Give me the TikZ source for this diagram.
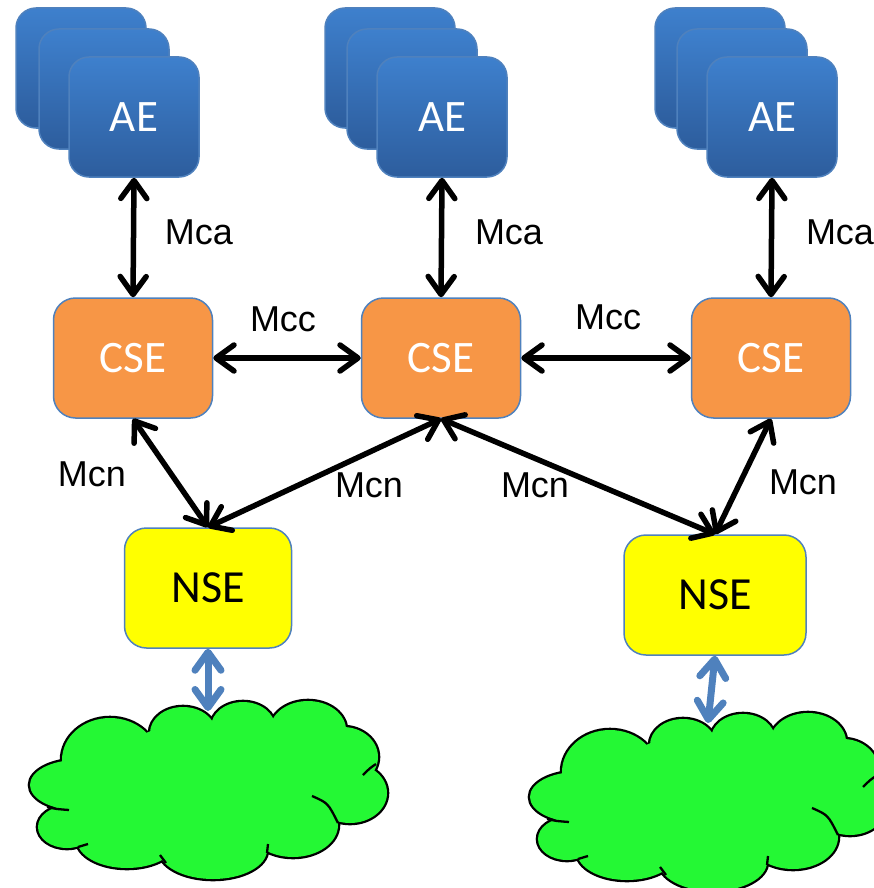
\documentclass[tikz,border=0pt]{standalone}
\usepackage{fontspec}
\setmainfont{Carlito}
\newfontfamily\arialfont{Liberation Sans}
\usetikzlibrary{arrows.meta}

\definecolor{aetop}{RGB}{62,128,205}
\definecolor{aebottom}{RGB}{45,93,157}
\definecolor{edgeblue}{RGB}{79,129,189}
\definecolor{cseorange}{RGB}{247,150,70}
\definecolor{cloudgreen}{RGB}{36,248,52}
\definecolor{nseyellow}{RGB}{255,255,0}

\begin{document}
\begin{tikzpicture}[x=1pt,y=-1pt,
	>={Straight Barb[length=18pt,width=26pt,round]},
	ae/.style={draw=edgeblue,line width=1.5pt,rounded corners=20pt,minimum width=130pt,minimum height=120pt,top color=aetop,bottom color=aebottom,text=white,font=\fontsize{45}{54}\selectfont},
	cse/.style={draw=edgeblue,line width=1.5pt,rounded corners=22pt,minimum width=159pt,minimum height=120pt,fill=cseorange,text=white,font=\fontsize{45}{54}\selectfont},
	nse/.style={draw=edgeblue,line width=1.5pt,rounded corners=22pt,minimum height=120pt,fill=nseyellow,text=black,font=\fontsize{46}{55}\selectfont},
	lab/.style={font=\arialfont\fontsize{36}{43}\selectfont,inner sep=0},
	link/.style={<->,line width=5.5pt},
	netlink/.style={<->,line width=7pt,draw=edgeblue}]
	\useasboundingbox (0,0) rectangle (873,888);
	% application entities
	\node[ae] (ae1b) at (81,68) {};
	\node[ae] (ae1m) at (104,89) {};
	\node[ae] (ae1) at (134,117) {AE};
	\node[ae] (ae2b) at (390,68) {};
	\node[ae] (ae2m) at (412,89) {};
	\node[ae] (ae2) at (442,117) {AE};
	\node[ae] (ae3b) at (720,68) {};
	\node[ae] (ae3m) at (742,89) {};
	\node[ae] (ae3) at (772,117) {AE};
	% common service entities
	\node[cse] (cse1) at (133,358) {CSE};
	\node[cse] (cse2) at (441,358) {CSE};
	\node[cse] (cse3) at (771,358) {CSE};
	% network service entities
	\node[nse,minimum width=167pt] (nse1) at (208,588) {NSE};
	\node[nse,minimum width=182pt] (nse2) at (715,595) {NSE};
	% clouds
	\foreach \dx/\dy in {0/0,500/12}{
		\begin{scope}[shift={(\dx,\dy)}]
			\foreach \cx/\cy/\rx/\ry in {77/785/47/25,67/827/29/21,127/840/50/28,213/850/54/29,293/825/45/32,350/793/37/30,343/757/35/30,308/730/38/29,243/727/32/25,183/733/33/26,110/760/48/42}
				\draw[line width=4.6pt,fill=cloudgreen] (\cx,\cy) ellipse [x radius=\rx pt,y radius=\ry pt];
			\foreach \cx/\cy/\rx/\ry in {77/785/47/25,67/827/29/21,127/840/50/28,213/850/54/29,293/825/45/32,350/793/37/30,343/757/35/30,308/730/38/29,243/727/32/25,183/733/33/26,110/760/48/42}
				\fill[cloudgreen] (\cx,\cy) ellipse [x radius=\rx pt,y radius=\ry pt];
			\fill[cloudgreen] (70,763) -- (55,806) -- (85,844) -- (165,856) -- (264,849) -- (332,821) -- (368,765) -- (340,729) -- (268,721) -- (213,723) -- (156,729) -- cycle;
			\draw[line width=2.3pt] (47,807) .. controls (56,809) .. (69,810);
			\draw[line width=2.3pt] (78,847) .. controls (83,846) .. (88,844);
			\draw[line width=2.3pt] (160,855) -- (166,863);
			\draw[line width=2.3pt] (268,844) -- (267,853);
			\draw[line width=2.3pt] (312,796) .. controls (328,803) .. (338,823);
			\draw[line width=2.3pt] (376,764) .. controls (370,768) .. (363,775);
		\end{scope}
	}
	\coordinate (net1) at (208,711);
	\coordinate (net2) at (708,723);
	% reference points
	\draw[link] (ae1.south) -- (cse1.north);
	\draw[link] (ae2.south) -- (cse2.north);
	\draw[link] (ae3.south) -- (cse3.north);
	\draw[link] (cse1.east) -- (cse2.west);
	\draw[link] (cse2.east) -- (cse3.west);
	\draw[link] (cse1.south) -- (nse1.north);
	\draw[link] (cse2.south) -- (nse1.north);
	\draw[link] (cse2.south) -- (nse2.north);
	\draw[link] (cse3.south) -- (nse2.north);
	\draw[netlink] (nse1.south) -- (net1);
	\draw[netlink] (nse2.south) -- (net2);
	% labels
	\node[lab] (mca1) at (199,232) {Mca};
	\node[lab] (mca2) at (509,232) {Mca};
	\node[lab] (mca3) at (840,232) {Mca};
	\node[lab] (mcc1) at (283,319) {Mcc};
	\node[lab] (mcc2) at (608,317) {Mcc};
	\node[lab] (mcn1) at (92,474) {Mcn};
	\node[lab] (mcn2) at (369,485) {Mcn};
	\node[lab] (mcn3) at (535,485) {Mcn};
	\node[lab] (mcn4) at (803,482) {Mcn};
\end{tikzpicture}
\end{document}
